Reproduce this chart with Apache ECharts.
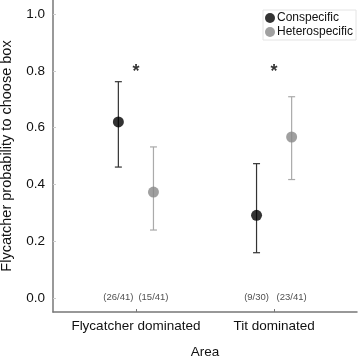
<!DOCTYPE html>
<html><head><meta charset="utf-8">
<script src="https://cdn.jsdelivr.net/npm/echarts@6/dist/echarts.min.js"></script>
<style>html,body{margin:0;padding:0;background:#fff}#c{width:358px;height:358px}</style>
</head><body><div id="c"></div>
<script>
const areas = ["Flycatcher dominated", "Tit dominated"];
const seriesNames = ["Conspecific", "Heterospecific"];
const conMean = [0.620, 0.291];
const conLow = [0.461, 0.159];
const conHigh = [0.762, 0.473];
const hetMean = [0.373, 0.567];
const hetLow = [0.239, 0.417];
const hetHigh = [0.532, 0.709];
const conCounts = ["(26/41)", "(9/30)"];
const hetCounts = ["(15/41)", "(23/41)"];
const starLevel = [0.815, 0.815];
const yTicks = [0, 0.2, 0.4, 0.6, 0.8, 1.0];

const OFF = 0.127;
const FONT = '"Liberation Sans", Arial, sans-serif';
const xOf = (i, s) => i + 1 + (s === 0 ? -OFF : OFF);

function errSeries(lo, hi, s, color) {
  return {
    type: 'custom', silent: true, z: 2,
    data: areas.map((a, i) => [xOf(i, s), lo[i], hi[i]]),
    renderItem: function (params, api) {
      const p1 = api.coord([api.value(0), api.value(1)]);
      const p2 = api.coord([api.value(0), api.value(2)]);
      const w = 3.5;
      const st = { stroke: color, lineWidth: 1.2 };
      return { type: 'group', children: [
        { type: 'line', shape: { x1: p1[0], y1: p1[1], x2: p2[0], y2: p2[1] }, style: st },
        { type: 'line', shape: { x1: p1[0] - w, y1: p1[1], x2: p1[0] + w, y2: p1[1] }, style: st },
        { type: 'line', shape: { x1: p2[0] - w, y1: p2[1], x2: p2[0] + w, y2: p2[1] }, style: st }
      ]};
    }
  };
}

function countSeries(counts, s) {
  return {
    type: 'scatter', silent: true, symbolSize: 0.1,
    data: counts.map((c, i) => ({ value: [xOf(i, s), 0], label: { formatter: c } })),
    label: { show: true, position: 'inside', color: '#222', fontSize: 9.5, fontFamily: FONT }
  };
}

const chart = echarts.init(document.getElementById('c'), null, { renderer: 'canvas' });
chart.setOption({
  animation: false,
  textStyle: { fontFamily: FONT },
  grid: { left: 53, right: 1, top: 0, bottom: 46, containLabel: false, outerBoundsMode: 'none' },
  legend: {
    data: seriesNames, orient: 'vertical', left: 263, top: 10,
    icon: 'circle', itemWidth: 10, itemHeight: 10, itemGap: 2,
    borderColor: '#e4e4e4', borderWidth: 1, padding: [2, 3, 2, 2],
    textStyle: { fontSize: 12, color: '#111', fontFamily: FONT, padding: [0, 0, 0, -3] }
  },
  xAxis: {
    type: 'value', min: 0.4, max: 2.6,
    name: 'Area', nameLocation: 'middle', nameGap: 33,
    nameTextStyle: { fontSize: 13.5, color: '#111', fontFamily: FONT },
    axisLine: { show: true, onZero: false, lineStyle: { color: '#777', width: 1.5 } },
    axisTick: { show: true, customValues: [1, 2], length: 3, inside: true, lineStyle: { color: '#777' } },
    axisLabel: { customValues: [1, 2], formatter: v => areas[Math.round(v) - 1], fontSize: 13.5, color: '#111', margin: 7 },
    splitLine: { show: false }
  },
  yAxis: {
    type: 'value', min: -0.05, max: 1.05,
    name: 'Flycatcher probability to choose box', nameLocation: 'middle', nameGap: 39,
    nameTextStyle: { fontSize: 14.5, color: '#111', fontFamily: FONT },
    axisLine: { show: true, onZero: false, lineStyle: { color: '#777', width: 1.5 } },
    axisTick: { show: true, customValues: yTicks, length: 3, inside: true, lineStyle: { color: '#ccc' } },
    axisLabel: { customValues: yTicks, formatter: v => v.toFixed(1), fontSize: 13.5, color: '#111', margin: 8 },
    splitLine: { show: false }
  },
  series: [
    errSeries(conLow, conHigh, 0, '#333'),
    errSeries(hetLow, hetHigh, 1, '#aaa'),
    { name: seriesNames[0], type: 'scatter', symbol: 'circle', symbolSize: 11, z: 3,
      itemStyle: { color: '#000' }, data: conMean.map((v, i) => [xOf(i, 0), v]) },
    { name: seriesNames[1], type: 'scatter', symbol: 'circle', symbolSize: 11, z: 3,
      itemStyle: { color: '#888' }, data: hetMean.map((v, i) => [xOf(i, 1), v]) },
    countSeries(conCounts, 0),
    countSeries(hetCounts, 1),
    { type: 'scatter', silent: true, symbolSize: 0.1,
      data: starLevel.map((v, i) => [i + 1, v]),
      label: { show: true, position: 'inside', formatter: '*', fontSize: 18, fontWeight: 'bold', color: '#000', fontFamily: FONT, offset: [0, 5] } }
  ]
});
</script></body></html>
